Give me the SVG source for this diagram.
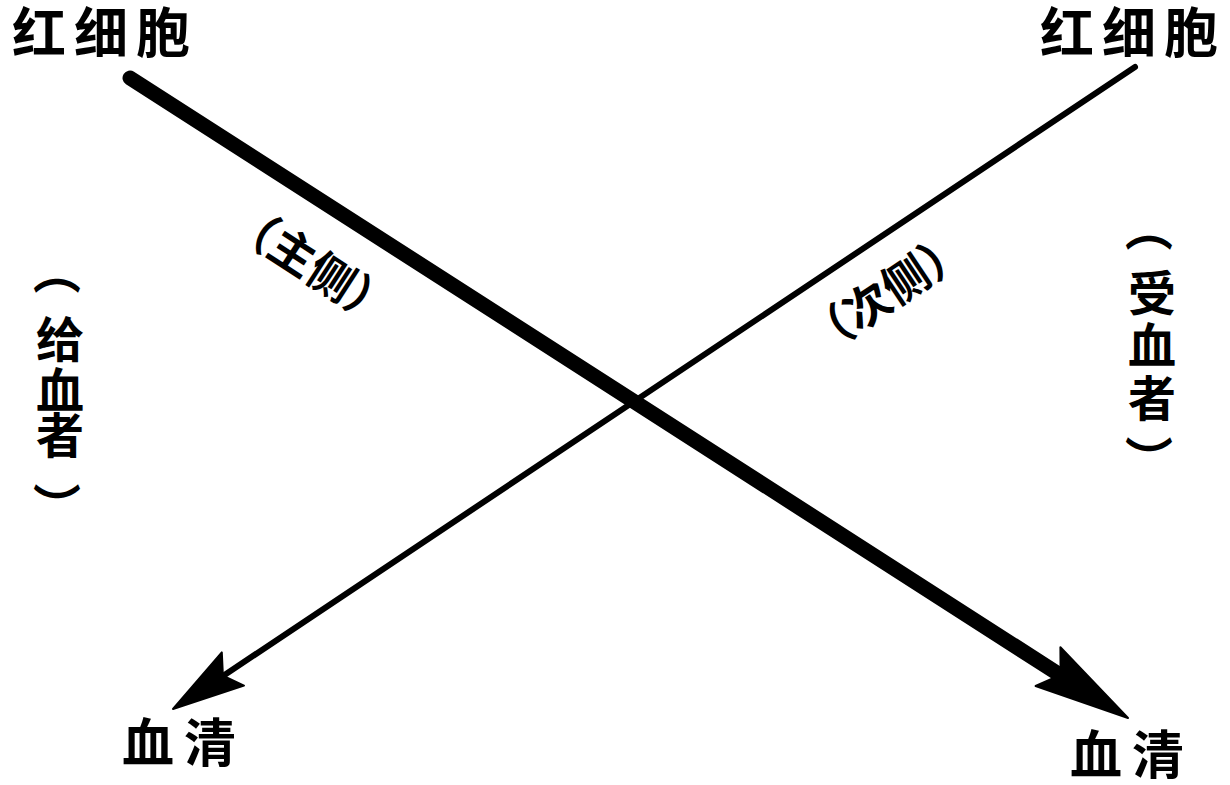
<svg xmlns="http://www.w3.org/2000/svg" width="1230" height="785" viewBox="0 0 1230 785">
<style>
.t{font-family:"Noto Sans CJK SC","Noto Sans CJK JP",sans-serif;font-weight:bold;fill:#000}
.lbl{font-size:54px}
.lbs{font-size:52px}
.v{font-size:48px;text-anchor:middle;dominant-baseline:central}
.r{font-size:46px;text-anchor:middle;dominant-baseline:central}
.ln{fill:none;stroke:#000;stroke-linecap:round}
.hd{fill:#000;stroke:#000;stroke-width:2;stroke-linejoin:round}
</style>
<rect width="1230" height="785" fill="#fff"/>
<g id="connectors">
<path class="ln" d="M130,78 L1060,675" stroke-width="15"/>
<polygon class="hd" points="1128,718 1035.6,686 1060.6,674.8 1060.4,647.3"/>
<path class="ln" d="M1135,67 L223,676" stroke-width="6"/>
<polygon class="hd" points="173,709 221.8,652.4 222.9,675.7 244,685.6"/>
</g>
<g id="rbc-left"><text class="t lbl" x="12 74 136" y="53">红细胞</text></g>
<g id="rbc-right"><text class="t lbl" x="1040 1102 1164" y="53">红细胞</text></g>
<g id="serum-left"><text class="t lbs" x="122 184" y="762">血清</text></g>
<g id="serum-right"><text class="t lbs" x="1070 1132" y="774">血清</text></g>
<g id="donor">
<text class="t v" transform="translate(60,271) rotate(90)">（</text>
<text class="t v" x="60" y="336">给</text>
<text class="t v" x="60" y="387">血</text>
<text class="t v" x="60" y="432">者</text>
<text class="t v" transform="translate(60,506) rotate(90)">）</text>
</g>
<g id="recipient">
<text class="t v" transform="translate(1152,228) rotate(90)">（</text>
<text class="t v" x="1152" y="290">受</text>
<text class="t v" x="1152" y="342">血</text>
<text class="t v" x="1152" y="395">者</text>
<text class="t v" transform="translate(1152,459) rotate(90)">）</text>
</g>
<g id="major-side">
<text class="t r" transform="translate(314,262) rotate(33)">（主侧）</text>
</g>
<g id="minor-side">
<text class="t r" transform="translate(885,290) rotate(-33.7)">（次侧）</text>
</g>
</svg>
